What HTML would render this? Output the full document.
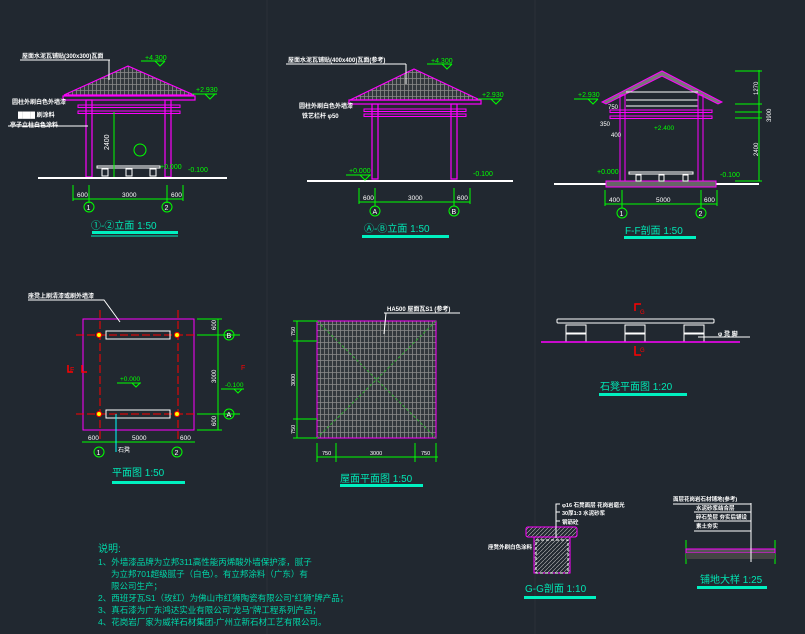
<!DOCTYPE html>
<html><head><meta charset="utf-8"><style>
html,body{margin:0;padding:0;background:#212830;}
svg{display:block}
text{font-family:"Liberation Sans","Noto Sans CJK SC",sans-serif;}
</style></head><body>
<svg width="805" height="634" viewBox="0 0 805 634" xmlns="http://www.w3.org/2000/svg">
<defs>
<pattern id="tile" width="8" height="6" patternUnits="userSpaceOnUse">
<rect width="8" height="6" fill="#33383d"/>
<path d="M0 0.5H8M0.5 0V6M4.5 0V6" stroke="#8a8a8a" stroke-width="0.8"/>
</pattern>
<pattern id="hatch" width="4" height="4" patternUnits="userSpaceOnUse">
<path d="M0 4L4 0" stroke="#bbb" stroke-width="0.6"/>
</pattern>
</defs>
<rect width="805" height="634" fill="#212830"/>
<line x1="267" y1="0" x2="267" y2="634" stroke="#2a3139"/>
<line x1="535" y1="0" x2="535" y2="634" stroke="#2a3139"/>

<!-- Elevation 1 -->
<g>
<polygon points="128,66 64,95 194,95" fill="url(#tile)" stroke="#ff00ff" stroke-width="1.2"/>
<rect x="63" y="96" width="132" height="4" fill="none" stroke="#ff00ff" stroke-width="1.2"/>
<rect x="86" y="100" width="6" height="77" fill="none" stroke="#ff00ff" stroke-width="1.2"/>
<rect x="165" y="100" width="6" height="77" fill="none" stroke="#ff00ff" stroke-width="1.2"/>
<rect x="78" y="105" width="102" height="2.5" fill="none" stroke="#ff00ff"/>
<rect x="78" y="111" width="102" height="2.5" fill="none" stroke="#ff00ff"/>
<line x1="38" y1="178" x2="227" y2="178" stroke="#fff" stroke-width="2"/>
<rect x="97" y="166" width="63" height="2" fill="none" stroke="#fff"/>
<rect x="102" y="169" width="6" height="7" fill="none" stroke="#fff"/><rect x="126" y="169" width="6" height="7" fill="none" stroke="#fff"/><rect x="150" y="169" width="6" height="7" fill="none" stroke="#fff"/>
<line x1="114" y1="112" x2="114" y2="177" stroke="#0f0"/>
<circle cx="140" cy="150" r="6" fill="none" stroke="#0f0"/>
<line x1="20" y1="60" x2="110" y2="60" stroke="#fff"/><line x1="109" y1="60" x2="109" y2="80" stroke="#fff"/>
<text x="22" y="58" font-size="6" fill="#fff" font-weight="bold">屋面水泥瓦铺贴(300x300)瓦面</text>
<text x="12" y="104" font-size="6" fill="#fff" font-weight="bold">圆柱外刷白色外墙漆</text>
<text x="18" y="117" font-size="6" fill="#fff" font-weight="bold">████ 刷涂料</text>
<text x="10" y="127" font-size="6" fill="#fff" font-weight="bold">亭子立柱白色涂料</text>
<line x1="8" y1="126" x2="88" y2="126" stroke="#fff"/>
<text x="145" y="60" font-size="7" fill="#0f0">+4.300</text>
<path d="M141 61H165M155 61l5 5l5-5" fill="none" stroke="#0f0"/>
<text x="196" y="92" font-size="7" fill="#0f0">+2.930</text>
<path d="M192 94H217M205 94l5 5l5-5" fill="none" stroke="#0f0"/>
<text x="160" y="169" font-size="7" fill="#0f0">+0.000</text>
<text x="188" y="172" font-size="7" fill="#0f0">-0.100</text>
<text x="109" y="150" font-size="7" fill="#fff" transform="rotate(-90 109 150)">2400</text>
<line x1="73" y1="199" x2="183" y2="199" stroke="#0f0"/>
<path d="M73 185V201M89 185V203M167 185V203M183 185V201" stroke="#0f0"/>
<text x="77" y="197" font-size="6.5" fill="#fff">600</text><text x="122" y="197" font-size="6.5" fill="#fff">3000</text><text x="171" y="197" font-size="6.5" fill="#fff">600</text>
<circle cx="89" cy="207" r="5" fill="none" stroke="#0f0"/><text x="86.5" y="210" font-size="7" fill="#fff">1</text>
<circle cx="167" cy="207" r="5" fill="none" stroke="#0f0"/><text x="164.5" y="210" font-size="7" fill="#fff">2</text>
<text x="91" y="229" font-size="10" fill="#00e6b4">①-②立面 1:50</text>
<rect x="92" y="231" width="86" height="3" fill="#00f0c0"/><line x1="91" y1="236" x2="178" y2="236" stroke="#00f0c0"/>
</g>

<!-- Elevation 2 -->
<g>
<polygon points="414,69 350,100 480,100" fill="url(#tile)" stroke="#ff00ff" stroke-width="1.2"/>
<rect x="349" y="100" width="132" height="4" fill="none" stroke="#ff00ff" stroke-width="1.2"/>
<rect x="372" y="104" width="6" height="75" fill="none" stroke="#ff00ff" stroke-width="1.2"/>
<rect x="451" y="104" width="6" height="75" fill="none" stroke="#ff00ff" stroke-width="1.2"/>
<rect x="364" y="109" width="102" height="2.5" fill="none" stroke="#ff00ff"/>
<rect x="364" y="114" width="102" height="2.5" fill="none" stroke="#ff00ff"/>
<line x1="307" y1="181" x2="513" y2="181" stroke="#fff" stroke-width="2"/>
<line x1="286" y1="64" x2="406" y2="64" stroke="#fff"/><line x1="406" y1="64" x2="406" y2="84" stroke="#fff"/>
<text x="288" y="62" font-size="6" fill="#fff" font-weight="bold">屋面水泥瓦铺贴(400x400)瓦面(参考)</text>
<text x="299" y="108" font-size="6" fill="#fff" font-weight="bold">圆柱外刷白色外墙漆</text>
<text x="302" y="118" font-size="6" fill="#fff" font-weight="bold">铁艺栏杆 φ50</text>
<text x="431" y="63" font-size="7" fill="#0f0">+4.300</text>
<path d="M427 64H452M442 64l5 5l5-5" fill="none" stroke="#0f0"/>
<text x="482" y="97" font-size="7" fill="#0f0">+2.930</text>
<path d="M478 99H502M491 99l5 5l5-5" fill="none" stroke="#0f0"/>
<text x="349" y="173" font-size="7" fill="#0f0">+0.000</text>
<path d="M346 175H371M360 175l5 5l5-5" fill="none" stroke="#0f0"/>
<text x="473" y="176" font-size="7" fill="#0f0">-0.100</text>
<line x1="359" y1="202" x2="470" y2="202" stroke="#0f0"/>
<path d="M359 188V204M375 188V206M454 188V206M470 188V204" stroke="#0f0"/>
<text x="363" y="200" font-size="6.5" fill="#fff">600</text><text x="408" y="200" font-size="6.5" fill="#fff">3000</text><text x="457" y="200" font-size="6.5" fill="#fff">600</text>
<circle cx="375" cy="211" r="5" fill="none" stroke="#0f0"/><text x="372.5" y="214" font-size="7" fill="#fff">A</text>
<circle cx="454" cy="211" r="5" fill="none" stroke="#0f0"/><text x="451.5" y="214" font-size="7" fill="#fff">B</text>
<text x="364" y="232" font-size="10" fill="#00e6b4">Ⓐ-Ⓑ立面 1:50</text>
<rect x="362" y="235" width="87" height="3" fill="#00f0c0"/>
</g>

<!-- F-F section -->
<g>
<polygon points="662,71 602,102 606,104 662,76 718,104 722,102" fill="#777" stroke="#ff00ff" stroke-width="1"/>
<line x1="626" y1="92" x2="698" y2="92" stroke="#fff"/><line x1="626" y1="100" x2="698" y2="100" stroke="#fff"/><line x1="626" y1="106" x2="698" y2="106" stroke="#fff"/>
<rect x="620" y="95" width="5" height="88" fill="none" stroke="#ff00ff"/>
<rect x="698" y="95" width="5" height="88" fill="none" stroke="#ff00ff"/>
<rect x="610" y="110" width="102" height="2.5" fill="none" stroke="#ff00ff"/>
<rect x="610" y="116" width="102" height="2.5" fill="none" stroke="#ff00ff"/>
<line x1="554" y1="184" x2="759" y2="184" stroke="#fff" stroke-width="2"/>
<rect x="606" y="181" width="110" height="6" fill="#666" stroke="#ff00ff"/>
<rect x="629" y="172" width="64" height="2" fill="none" stroke="#fff"/>
<rect x="636" y="175" width="5" height="6" fill="none" stroke="#fff"/><rect x="659" y="175" width="5" height="6" fill="none" stroke="#fff"/><rect x="683" y="175" width="5" height="6" fill="none" stroke="#fff"/>
<line x1="759" y1="70" x2="759" y2="181" stroke="#0f0"/>
<path d="M735 71H762M735 104H762M735 112H762M735 118H762M735 181H762" stroke="#0f0"/>
<text x="758" y="95" font-size="6" fill="#fff" transform="rotate(-90 758 95)">1270</text>
<text x="758" y="156" font-size="6" fill="#fff" transform="rotate(-90 758 156)">2400</text>
<text x="771" y="122" font-size="6" fill="#fff" transform="rotate(-90 771 122)">3900</text>
<text x="578" y="97" font-size="7" fill="#0f0">+2.930</text>
<path d="M574 99H598M588 99l5 5l5-5" fill="none" stroke="#0f0"/>
<text x="608" y="109" font-size="6" fill="#fff">750</text><text x="600" y="126" font-size="6" fill="#fff">350</text><text x="611" y="137" font-size="6" fill="#fff">400</text>
<text x="654" y="130" font-size="6.5" fill="#0f0">+2.400</text>
<text x="597" y="174" font-size="7" fill="#0f0">+0.000</text>
<text x="720" y="177" font-size="7" fill="#0f0">-0.100</text>
<line x1="605" y1="204" x2="717" y2="204" stroke="#0f0"/>
<path d="M605 190V206M622 190V208M701 190V208M717 190V206" stroke="#0f0"/>
<text x="609" y="202" font-size="6.5" fill="#fff">400</text><text x="656" y="202" font-size="6.5" fill="#fff">5000</text><text x="704" y="202" font-size="6.5" fill="#fff">600</text>
<circle cx="622" cy="213" r="5" fill="none" stroke="#0f0"/><text x="619.5" y="216" font-size="7" fill="#fff">1</text>
<circle cx="701" cy="213" r="5" fill="none" stroke="#0f0"/><text x="698.5" y="216" font-size="7" fill="#fff">2</text>
<text x="625" y="234" font-size="10" fill="#00e6b4">F-F剖面 1:50</text>
<rect x="624" y="236" width="72" height="3" fill="#00f0c0"/>
</g>

<!-- Plan -->
<g>
<rect x="83" y="319" width="111" height="111" fill="none" stroke="#ff00ff"/>
<path d="M100 310V440M178 310V440M76 335H240M76 414H240" stroke="#f00" stroke-dasharray="8 3"/>
<rect x="106" y="331" width="64" height="8" fill="none" stroke="#fff"/>
<rect x="106" y="410" width="64" height="8" fill="none" stroke="#fff"/>
<g fill="#ff0" stroke="#f00"><circle cx="99" cy="335" r="2.5"/><circle cx="177" cy="335" r="2.5"/><circle cx="99" cy="414" r="2.5"/><circle cx="177" cy="414" r="2.5"/></g>
<line x1="218" y1="319" x2="218" y2="430" stroke="#0f0"/>
<path d="M197 319H222M197 335H240M197 414H240M197 430H222" stroke="#0f0"/>
<circle cx="229" cy="335" r="5" fill="none" stroke="#0f0"/><text x="226.5" y="338" font-size="7" fill="#fff">B</text>
<circle cx="229" cy="414" r="5" fill="none" stroke="#0f0"/><text x="226.5" y="417" font-size="7" fill="#fff">A</text>
<text x="216" y="330" font-size="6" fill="#fff" transform="rotate(-90 216 330)">600</text>
<text x="216" y="383" font-size="6" fill="#fff" transform="rotate(-90 216 383)">3000</text>
<text x="216" y="426" font-size="6" fill="#fff" transform="rotate(-90 216 426)">600</text>
<line x1="82" y1="442" x2="195" y2="442" stroke="#0f0"/>
<text x="88" y="440" font-size="6.5" fill="#fff">600</text><text x="132" y="440" font-size="6.5" fill="#fff">5000</text><text x="180" y="440" font-size="6.5" fill="#fff">600</text>
<circle cx="99" cy="452" r="5" fill="none" stroke="#0f0"/><text x="96.5" y="455" font-size="7" fill="#fff">1</text>
<circle cx="177" cy="452" r="5" fill="none" stroke="#0f0"/><text x="174.5" y="455" font-size="7" fill="#fff">2</text>
<text x="120" y="381" font-size="6.5" fill="#0f0">+0.000</text><path d="M117 383H141M132 383l4 4l4-4" fill="none" stroke="#0f0"/>
<text x="225" y="387" font-size="6.5" fill="#0f0">-0.100</text><path d="M221 389H244M234 389l4 4l4-4" fill="none" stroke="#0f0"/>
<path d="M68 365V372H73M82 365V372H87" stroke="#f00" stroke-width="1.5" fill="none"/>
<text x="70" y="372" font-size="7" fill="#f00">F</text><text x="241" y="370" font-size="7" fill="#f00">F</text>
<line x1="116" y1="414" x2="116" y2="452" stroke="#0ff"/>
<text x="118" y="452" font-size="6" fill="#fff">石凳</text>
<text x="28" y="298" font-size="6" fill="#fff" font-weight="bold">座凳上刷清漆或刷外墙漆</text>
<path d="M28 300H104L120 322" fill="none" stroke="#fff"/>
<text x="112" y="476" font-size="10" fill="#00e6b4">平面图 1:50</text>
<rect x="112" y="481" width="73" height="3" fill="#00f0c0"/>
</g>

<!-- Roof plan -->
<g>
<rect x="317" y="321" width="119" height="117" fill="url(#tile)" stroke="#ff00ff"/>
<path d="M317 321L436 438M436 321L317 438" stroke="#3a3" stroke-dasharray="3 2"/>
<line x1="297" y1="321" x2="297" y2="438" stroke="#0f0"/>
<path d="M293 321H317M293 341H317M293 419H317M293 438H317" stroke="#0f0"/>
<text x="295" y="336" font-size="5.5" fill="#fff" transform="rotate(-90 295 336)">750</text>
<text x="295" y="386" font-size="5.5" fill="#fff" transform="rotate(-90 295 386)">3000</text>
<text x="295" y="434" font-size="5.5" fill="#fff" transform="rotate(-90 295 434)">750</text>
<line x1="317" y1="457" x2="438" y2="457" stroke="#0f0"/>
<path d="M317 443V462M336 443V462M415 443V462M436 443V462" stroke="#0f0"/>
<text x="322" y="455" font-size="5.5" fill="#fff">750</text><text x="370" y="455" font-size="5.5" fill="#fff">3000</text><text x="421" y="455" font-size="5.5" fill="#fff">750</text>
<text x="387" y="311" font-size="6" fill="#fff" font-weight="bold">HA500 屋面瓦S1 (参考)</text>
<path d="M384 313H460M386 313L384 334" fill="none" stroke="#fff"/>
<text x="340" y="482" font-size="10" fill="#00e6b4">屋面平面图 1:50</text>
<rect x="340" y="484" width="83" height="3" fill="#00f0c0"/>
</g>

<!-- Stone bench -->
<g stroke="#fff" fill="none">
<rect x="557" y="319" width="157" height="4" rx="1"/>
<rect x="566" y="325" width="20" height="8"/><rect x="566" y="334" width="20" height="8"/>
<rect x="625" y="325" width="20" height="8"/><rect x="625" y="334" width="20" height="8"/>
<rect x="684" y="325" width="20" height="8"/><rect x="684" y="334" width="20" height="8"/>
<line x1="698" y1="337" x2="750" y2="337"/>
</g>
<line x1="541" y1="342" x2="740" y2="342" stroke="#ff00ff" stroke-width="1.5"/>
<path d="M635 311V304H641M635 346V355H641" stroke="#f00" stroke-width="1.5" fill="none"/>
<text x="640" y="314" font-size="6" fill="#f00">G</text><text x="640" y="352" font-size="6" fill="#f00">G</text>
<text x="718" y="336" font-size="6" fill="#fff" font-weight="bold">φ 凳 脚</text>
<text x="600" y="390" font-size="10" fill="#00e6b4">石凳平面图 1:20</text>
<rect x="599" y="393" width="88" height="3" fill="#00f0c0"/>

<!-- G-G section -->
<g>
<rect x="526" y="527" width="51" height="10" rx="2" fill="url(#hatch)" stroke="#ff00ff"/>
<rect x="534" y="537" width="36" height="36" fill="url(#hatch)" stroke="#ff00ff"/>
<rect x="536" y="540" width="32" height="33" fill="none" stroke="#fff" stroke-dasharray="3 2"/>
<path d="M556 538V504H560M556 512H560M556 521H560" stroke="#fff" fill="none"/>
<text x="562" y="507" font-size="5.5" fill="#fff" font-weight="bold">φ16 石凳面层 花岗岩磨光</text>
<text x="562" y="515" font-size="5.5" fill="#fff" font-weight="bold">30厚1:3 水泥砂浆</text>
<text x="562" y="524" font-size="5.5" fill="#fff" font-weight="bold">钢筋砼</text>
<text x="488" y="549" font-size="5.5" fill="#fff" font-weight="bold">座凳外刷白色涂料</text>
<text x="525" y="592" font-size="10" fill="#00e6b4">G-G剖面 1:10</text>
<rect x="524" y="596" width="72" height="3" fill="#00f0c0"/>
</g>

<!-- 铺地 -->
<g>
<line x1="686" y1="540" x2="686" y2="564" stroke="#0f0"/><line x1="775" y1="540" x2="775" y2="564" stroke="#0f0"/>
<rect x="686" y="549" width="89" height="4" fill="#555" stroke="#ff00ff"/>
<rect x="686" y="553" width="89" height="6" fill="#444"/>
<path d="M751 503V562M673 504H751M694 512H751M694 521H751M694 531H751" stroke="#fff" fill="none"/>
<text x="673" y="501" font-size="5.5" fill="#fff" font-weight="bold">面层花岗岩石材铺地(参考)</text>
<text x="696" y="510" font-size="5.5" fill="#fff" font-weight="bold">水泥砂浆结合层</text>
<text x="696" y="519" font-size="5.5" fill="#fff" font-weight="bold">碎石垫层 夯实后铺设</text>
<text x="696" y="528" font-size="5.5" fill="#fff" font-weight="bold">素土夯实</text>
<text x="700" y="583" font-size="10" fill="#00e6b4">铺地大样 1:25</text>
<rect x="697" y="586" width="70" height="3" fill="#00f0c0"/>
</g>

<!-- Notes -->
<g font-size="8.5" fill="#00d6a8">
<text x="98" y="552" font-size="10">说明:</text>
<text x="98" y="565">1、外墙漆品牌为立邦311高性能丙烯酸外墙保护漆，腻子</text>
<text x="111" y="577">为立邦701超级腻子（白色）。有立邦涂料（广东）有</text>
<text x="111" y="589">限公司生产；</text>
<text x="98" y="601">2、西班牙瓦S1（玫红）为佛山市红狮陶瓷有限公司“红狮”牌产品；</text>
<text x="98" y="613">3、真石漆为广东鸿达实业有限公司“龙马”牌工程系列产品；</text>
<text x="98" y="625">4、花岗岩厂家为威祥石材集团-广州立新石材工艺有限公司。</text>
</g>
</svg>
</body></html>
